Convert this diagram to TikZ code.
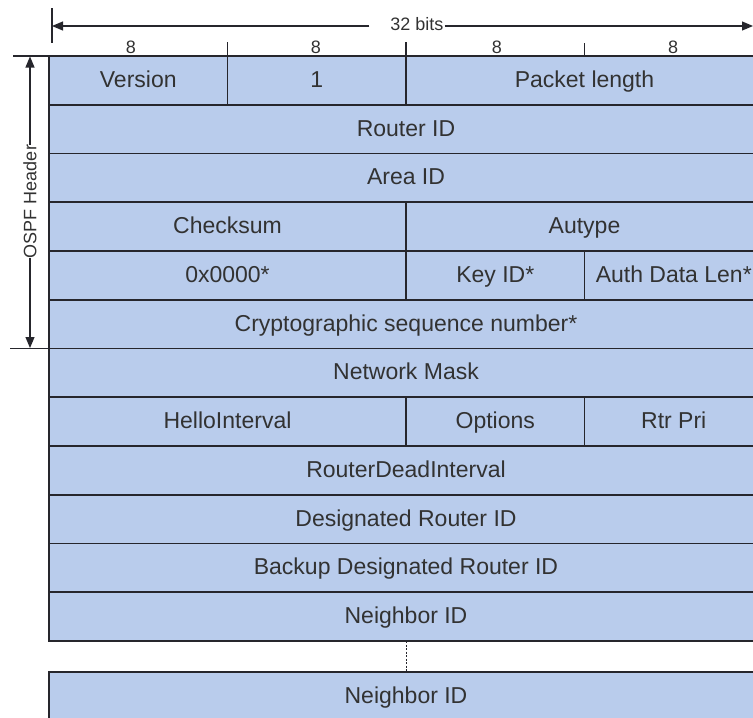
\documentclass[tikz,border=0pt]{standalone}
\usepackage{fontspec}
\setmainfont{Liberation Sans}
\usetikzlibrary{arrows.meta}
\definecolor{fieldblue}{RGB}{185,204,236}
\definecolor{rulegray}{RGB}{38,38,44}
\definecolor{textgray}{RGB}{50,50,50}

\begin{document}
\begin{tikzpicture}[x=1pt, y=-1pt, every node/.style={text=textgray}, >={Triangle[length=11pt, width=9pt]},
	field/.style={draw=rulegray, fill=fieldblue, line width=1.6pt, inner sep=0pt, outer sep=0pt, minimum height=48.75pt, text height=18pt, text depth=4pt, anchor=north west, font=\fontsize{23}{26}\selectfont},
	one/.style={field, minimum width=178.5pt},
	two/.style={field, minimum width=357pt},
	four/.style={field, minimum width=714pt},
	small/.style={font=\fontsize{18}{20}\selectfont, inner sep=0pt},
	rule/.style={draw=rulegray, line width=1.2pt}]
	\clip (0,0) rectangle (753,718);
	% header fields
	\node[one] (version) at (49,56) {Version};
	\node[one] (type) at (227.5,56) {1};
	\node[two] (pktlen) at (406,56) {Packet length};
	\node[four] (rtrid) at (49,104.75) {Router ID};
	\node[four] (areaid) at (49,153.5) {Area ID};
	\node[two] (cksum) at (49,202.25) {Checksum};
	\node[two] (autype) at (406,202.25) {Autype};
	\node[two] (zeros) at (49,251) {0x0000*};
	\node[one] (keyid) at (406,251) {Key ID*};
	\node[one] (authlen) at (584.5,251) {Auth Data Len*};
	\node[four] (cryptseq) at (49,299.75) {Cryptographic sequence number*};
	% hello body
	\node[four] (netmask) at (49,348.5) {Network Mask};
	\node[two] (hello) at (49,397.25) {HelloInterval};
	\node[one] (options) at (406,397.25) {Options};
	\node[one] (rtrpri) at (584.5,397.25) {Rtr Pri};
	\node[four] (deadint) at (49,446) {RouterDeadInterval};
	\node[four] (dr) at (49,494.75) {Designated Router ID};
	\node[four] (bdr) at (49,543.5) {Backup Designated Router ID};
	\node[four] (nbr) at (49,592.25) {Neighbor ID};
	\node[four] (nbrlast) at (49,672) {Neighbor ID};
	\draw[rulegray, line width=0.8pt, dash pattern=on 2pt off 1.5pt] (nbr.south) -- (nbrlast.north);
	% 32 bits scale
	\node[small, fill=white, inner xsep=1pt] (bits) at (417,24) {32 bits};
	\coordinate (topL) at (52,26);
	\coordinate (topR) at (753,26);
	\draw[rule] (52,8) -- (52,43);
	\draw[rule, ->] ([xshift=-20pt]bits.west |- topL) -- (topL);
	\draw[rule, ->] (bits.east |- topR) -- (topR);
	\draw[rule] (227.5,42) -- (227.5,56);
	\draw[rule] (406,42) -- (406,56);
	\draw[rule] (584.5,43) -- (584.5,56);
	\node[small] (bitsa) at (131,47) {8};
	\node[small] (bitsb) at (316,47) {8};
	\node[small] (bitsc) at (497,47) {8};
	\node[small] (bitsd) at (673,47) {8};
	% OSPF header span
	\draw[rule] (13,56) -- (49,56);
	\draw[rule] (10,348.5) -- (49,348.5);
	\coordinate (hdrtop) at (30,56.5);
	\coordinate (hdrbot) at (30,348);
	\node[small, fill=white, rotate=90] (hdr) at (30,201.5) {OSPF Header};
	\draw[rule, ->] (hdr.east) -- (hdrtop);
	\draw[rule, ->] (hdr.west) -- (hdrbot);
\end{tikzpicture}
\end{document}
